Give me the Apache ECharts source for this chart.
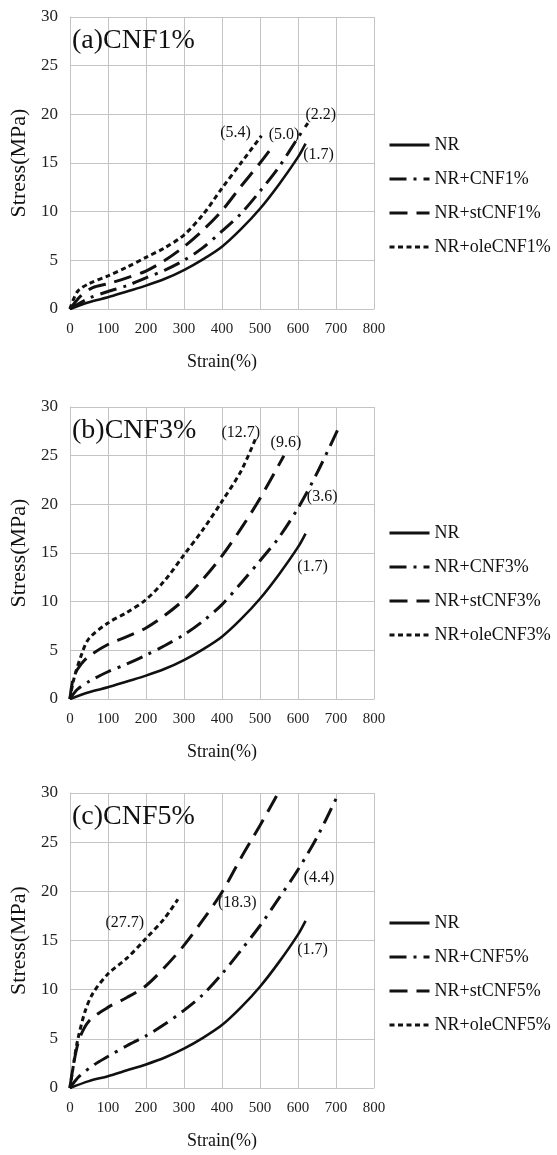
<!DOCTYPE html>
<html>
<head>
<meta charset="utf-8">
<script src="https://cdn.jsdelivr.net/npm/echarts@6/dist/echarts.min.js"></script>
<style>
  html, body { margin: 0; padding: 0; background: #fff; }
  #chart { width: 557px; height: 1155px; }
</style>
</head>
<body>
<div id="chart"></div>
<script>
// NR curve, same in every panel
const nrStrain = [0, 50, 100, 150, 200, 250, 300, 350, 400, 450, 500, 550, 600, 620];
const nrStress = [0, 0.7, 1.2, 1.8, 2.4, 3.1, 4.0, 5.1, 6.4, 8.2, 10.3, 12.8, 15.6, 17.0];

// (a) CNF 1%
const cnf1Strain = [0, 50, 100, 150, 200, 250, 300, 350, 400, 450, 500, 550, 600, 626];
const cnf1Stress = [0, 1.1, 1.8, 2.4, 3.2, 4.0, 5.0, 6.3, 8.0, 9.8, 12.1, 14.6, 17.6, 19.1];
const st1Strain = [0, 30, 60, 100, 150, 200, 250, 300, 350, 400, 450, 500, 537];
const st1Stress = [0, 1.4, 2.2, 2.6, 3.2, 3.9, 5.0, 6.4, 8.1, 10.1, 12.6, 15.0, 16.9];
const ole1Strain = [0, 20, 50, 100, 150, 200, 250, 300, 350, 400, 450, 504];
const ole1Stress = [0, 1.8, 2.6, 3.4, 4.3, 5.3, 6.3, 7.6, 9.7, 12.4, 15.0, 17.8];

// (b) CNF 3%
const cnf3Strain = [0, 20, 50, 100, 150, 200, 250, 300, 350, 400, 450, 500, 550, 600, 650, 711];
const cnf3Stress = [0, 1.0, 1.8, 2.8, 3.6, 4.5, 5.5, 6.6, 8.0, 9.7, 11.9, 14.2, 16.6, 19.6, 23.2, 28.2];
const st3Strain = [0, 10, 30, 50, 100, 150, 200, 250, 300, 350, 400, 450, 500, 563];
const st3Stress = [0, 2.3, 3.6, 4.4, 5.6, 6.4, 7.3, 8.6, 10.2, 12.3, 14.7, 17.5, 20.6, 25.0];
const ole3Strain = [0, 10, 30, 50, 100, 150, 200, 250, 300, 350, 400, 450, 489];
const ole3Stress = [0, 2.0, 4.5, 6.2, 7.8, 8.9, 10.2, 12.2, 14.8, 17.4, 20.3, 23.4, 26.8];

// (c) CNF 5%
const cnf5Strain = [0, 25, 65, 100, 150, 200, 250, 300, 350, 400, 450, 500, 550, 600, 650, 700];
const cnf5Stress = [0, 1.2, 2.4, 3.2, 4.3, 5.3, 6.5, 7.9, 9.5, 11.6, 14.0, 16.5, 19.3, 22.2, 25.5, 29.4];
const st5Strain = [0, 10, 25, 50, 100, 150, 200, 250, 300, 350, 400, 450, 500, 548];
const st5Stress = [0, 2.5, 5.0, 6.8, 8.2, 9.2, 10.4, 12.3, 14.5, 17.1, 19.9, 23.4, 26.7, 30.0];
const ole5Strain = [0, 10, 20, 40, 60, 100, 150, 200, 250, 284];
const ole5Stress = [0, 2.5, 4.8, 7.8, 9.6, 11.6, 13.2, 15.2, 17.3, 19.2];

// panel titles, legend names and end notes (NR, CNF, st, ole)
const panelTitles = ['(a)CNF1%', '(b)CNF3%', '(c)CNF5%'];
const legendNames = [
  ['NR', 'NR+CNF1%', 'NR+stCNF1%', 'NR+oleCNF1%'],
  ['NR', 'NR+CNF3%', 'NR+stCNF3%', 'NR+oleCNF3%'],
  ['NR', 'NR+CNF5%', 'NR+stCNF5%', 'NR+oleCNF5%']
];
const endNotes = [
  ['(1.7)', '(2.2)', '(5.0)', '(5.4)'],
  ['(1.7)', '(3.6)', '(9.6)', '(12.7)'],
  ['(1.7)', '(4.4)', '(18.3)', '(27.7)']
];

const FONT = 'Liberation Serif, Times New Roman, serif';
const INK = '#111';
const GRID_COLOR = '#c4c4c4';

const dashTypes = ['solid', [17, 7, 3, 7], [18, 9], [5, 3.5]];
const widths = [2.6, 3, 3, 3];

// pixel offsets of the notes from each curve end
const noteOffsets = [
  [[13, 11], [13, -8], [10, -10], [-26, -3]],
  [[7, 33], [-18, 72], [2, -13], [-15, -5]],
  [[7, 29], [-17, 79], [-41, 110], [-53, 24]]
];

const panelData = [
  [[nrStrain, nrStress], [cnf1Strain, cnf1Stress], [st1Strain, st1Stress], [ole1Strain, ole1Stress]],
  [[nrStrain, nrStress], [cnf3Strain, cnf3Stress], [st3Strain, st3Stress], [ole3Strain, ole3Stress]],
  [[nrStrain, nrStress], [cnf5Strain, cnf5Stress], [st5Strain, st5Stress], [ole5Strain, ole5Stress]]
];

const gridTops = [17, 407, 793];
const gridHeights = [292, 292, 295];
const legendTops = [136, 524, 914];

function zip(xs, ys) {
  return xs.map((x, i) => [x, ys[i]]);
}

var myChart;
window.onload = function () {
  myChart = echarts.init(document.getElementById('chart'), null, { renderer: 'canvas' });

  const grids = [], xAxes = [], yAxes = [], series = [], legends = [], titles = [];

  panelData.forEach((panel, p) => {
    grids.push({ left: 68, top: gridTops[p], width: 306, height: gridHeights[p] });
    xAxes.push({
      type: 'value', gridIndex: p, min: 0, max: 800, interval: 100,
      name: 'Strain(%)', nameLocation: 'middle', nameGap: 44,
      nameTextStyle: { fontFamily: FONT, fontSize: 18, color: INK },
      axisLine: { show: true, lineStyle: { color: GRID_COLOR } },
      axisTick: { show: false },
      axisLabel: { margin: 13, fontFamily: FONT, fontSize: 15, color: '#222' },
      splitLine: { show: true, lineStyle: { color: GRID_COLOR, width: 1 } }
    });
    yAxes.push({
      type: 'value', gridIndex: p, min: 0, max: 30, interval: 5,
      name: 'Stress(MPa)', nameLocation: 'middle', nameGap: 36, nameRotate: 90,
      nameTextStyle: { fontFamily: FONT, fontSize: 22, color: INK },
      axisLine: { show: true, lineStyle: { color: GRID_COLOR } },
      axisTick: { show: false },
      axisLabel: { margin: 12, fontFamily: FONT, fontSize: 17, color: '#222' },
      splitLine: { show: true, lineStyle: { color: GRID_COLOR, width: 1 } }
    });
    titles.push({
      text: panelTitles[p], left: 72, top: gridTops[p] + 10, padding: 0,
      textStyle: { fontFamily: FONT, fontSize: 28, fontWeight: 'normal', color: INK }
    });
    legends.push({
      data: legendNames[p], orient: 'vertical', left: 388, top: legendTops[p],
      padding: 0, itemWidth: 40, itemHeight: 14, itemGap: 16, selectedMode: false,
      itemStyle: { opacity: 0 },
      lineStyle: { width: 3 },
      textStyle: { fontFamily: FONT, fontSize: 18, color: INK, lineHeight: 18 }
    });

    panel.forEach((xy, s) => {
      const xs = xy[0], ys = xy[1];
      const last = xs.length - 1;
      series.push({
        name: legendNames[p][s],
        type: 'line',
        xAxisIndex: p, yAxisIndex: p,
        data: zip(xs, ys),
        smooth: 0.3,
        symbol: 'none',
        lineStyle: { color: INK, width: widths[s], type: dashTypes[s] },
        itemStyle: { color: INK },
        animation: false,
        markPoint: {
          symbol: 'circle', symbolSize: 1,
          itemStyle: { color: 'rgba(0,0,0,0)' },
          label: {
            show: true, position: 'inside',
            fontFamily: FONT, fontSize: 16, color: INK,
            formatter: endNotes[p][s],
            offset: noteOffsets[p][s]
          },
          data: [{ coord: [xs[last], ys[last]] }]
        }
      });
    });
  });

  myChart.setOption({
    backgroundColor: '#fff',
    animation: false,
    title: titles,
    legend: legends,
    grid: grids,
    xAxis: xAxes,
    yAxis: yAxes,
    series: series
  });
};
</script>
</body>
</html>
